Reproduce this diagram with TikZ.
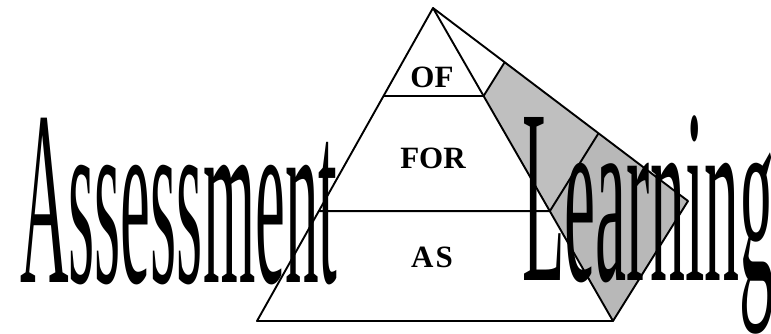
\documentclass[tikz,border=0pt]{standalone}
\usepackage{fontspec}
\setmainfont{Liberation Serif}
\usetikzlibrary{calc}

\begin{document}
\begin{tikzpicture}[
        x=1pt, y=-1pt,
        edge/.style={draw, line width=1.9pt, line join=round},
        upperband/.style={fill=black!25},
        lowerband/.style={fill=black!28},
        level/.style={font=\fontsize{31}{31}\selectfont\bfseries, inner sep=0pt},
        bigword/.style={font=\fontsize{249}{249}\selectfont, inner sep=0pt, xscale=0.27, anchor=base west}
    ]
        \useasboundingbox (0,0) rectangle (771,333);

        % Pyramid corners
        \coordinate (apex) at (433,8);
        \coordinate (left) at (257,321);
        \coordinate (right) at (613,321);
        \coordinate (back) at (688,201);

        % Level dividers
        \coordinate (ofL) at ($(apex)!0.281!(left)$);
        \coordinate (ofR) at ($(apex)!0.281!(right)$);
        \coordinate (ofB) at ($(apex)!0.281!(back)$);
        \coordinate (forL) at ($(apex)!0.649!(left)$);
        \coordinate (forR) at ($(apex)!0.649!(right)$);
        \coordinate (forB) at ($(apex)!0.649!(back)$);

        % Shaded side
        \path[upperband] (ofR) -- (ofB) -- (forB) -- (forR) -- cycle;
        \path[lowerband] (forR) -- (forB) -- (back) -- (right) -- cycle;

        % Words
        \node[bigword] (assess) at (20,282) {Assessment};
        \node[bigword, xscale=1.04] (learn) at (522,280) {Learning};

        % Outline
        \draw[edge] (apex) -- (left) -- (right) -- cycle;
        \draw[edge] (apex) -- (back) -- (right);
        \draw[edge] (ofL) -- (ofR) -- (ofB);
        \draw[edge] (forL) -- (forR) -- (forB);

        % Levels
        \node[level] (of) at (432,77) {OF};
        \node[level] (for) at (433,158) {FOR};
        \node[level] (as) at (432,257) {A\kern2pt S};
    \end{tikzpicture}
\end{document}
